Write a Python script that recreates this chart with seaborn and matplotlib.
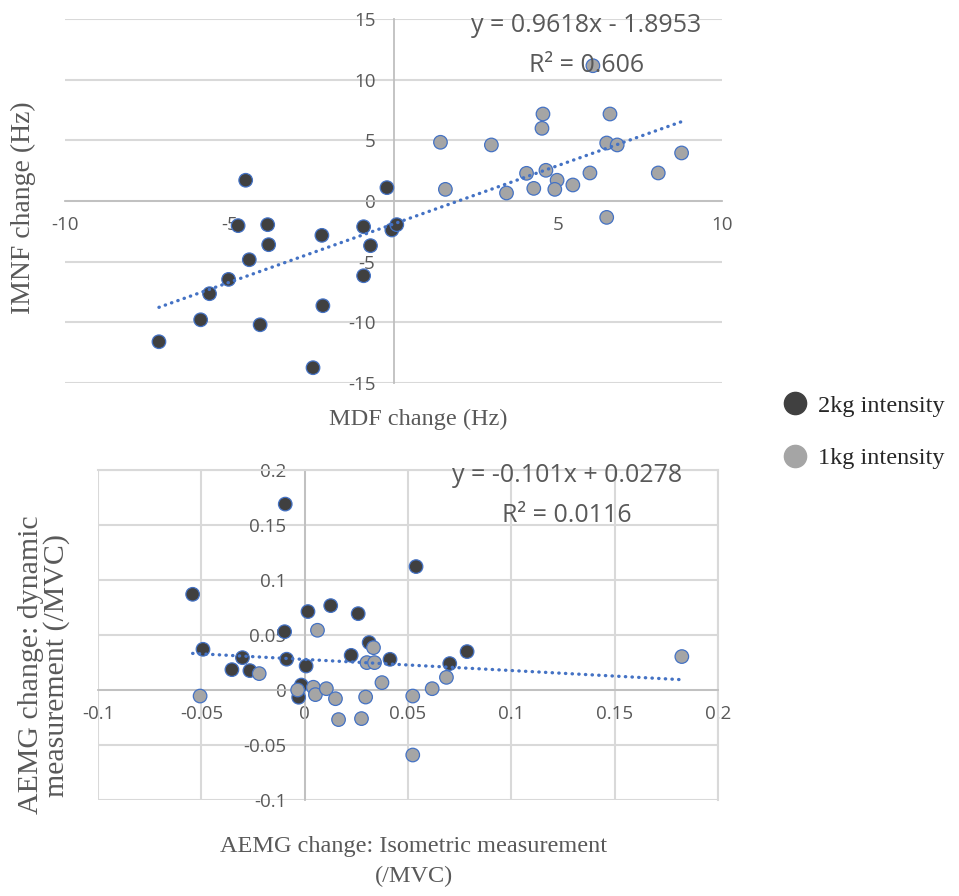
import numpy as np
import pandas as pd
import matplotlib
matplotlib.use('Agg')
import matplotlib.pyplot as plt
from matplotlib.lines import Line2D
import seaborn as sns

# ---- data ----
GROUPS = ['2kg intensity', '1kg intensity']

# top panel: MDF change vs IMNF change (Hz)
mdf_2kg = [-4.50, -0.20, -4.73, -3.83, -3.80, -4.39, -5.02, -5.60, -5.87, -7.14,
           -4.06, -2.45, -2.15, -2.18, -0.91, -0.70, -0.91, -0.05, 0.10]
imnf_2kg = [1.71, 1.10, -2.03, -1.95, -3.60, -4.84, -6.46, -7.64, -9.79, -11.6,
            -10.2, -13.74, -8.63, -2.83, -2.12, -3.68, -6.16, -2.39, -1.95]
mdf_1kg = [1.43, 1.58, 2.98, 3.44, 4.05, 4.27, 4.55, 4.52, 4.64, 4.98,
           4.91, 5.46, 5.98, 6.07, 6.49, 6.59, 6.81, 6.49, 8.06, 8.77]
imnf_1kg = [4.84, 0.96, 4.62, 0.66, 2.28, 1.04, 7.17, 5.99, 2.53, 1.71,
            0.96, 1.32, 2.31, 11.15, 4.78, 7.17, 4.62, -1.35, 2.31, 3.96]

# bottom panel: AEMG change isometric vs dynamic (/MVC)
iso_2kg = [-0.0094, -0.0542, -0.0492, -0.0352, -0.0301, -0.0265, -0.0097, -0.0087,
           0.0007, -0.0016, -0.0029, 0.0016, 0.0126, 0.0259, 0.0225, 0.0312,
           0.0413, 0.0539, 0.0702, 0.0786]
dyn_2kg = [0.169, 0.087, 0.037, 0.0185, 0.0294, 0.0176, 0.053, 0.028,
           0.0218, 0.0045, -0.0066, 0.0713, 0.0767, 0.0694, 0.0315, 0.0431,
           0.0279, 0.1122, 0.024, 0.0349]
iso_1kg = [-0.0506, -0.0220, 0.0062, 0.0042, 0.0052, 0.0105, 0.0149, 0.0164,
           0.0275, 0.0295, 0.0301, 0.0338, 0.0333, 0.0374, -0.0034, 0.0523,
           0.0617, 0.0686, 0.0523, 0.1825]
dyn_1kg = [-0.0055, 0.0149, 0.0543, 0.0025, -0.0042, 0.0012, -0.0079, -0.0269,
           -0.026, -0.0064, 0.0249, 0.0249, 0.0385, 0.0067, 0.0, -0.0055,
           0.0012, 0.0115, -0.0591, 0.0304]

# trendlines as printed on the chart
top_slope, top_icpt, top_r2 = 0.9618, -1.8953, 0.606
bot_slope, bot_icpt, bot_r2 = -0.101, 0.0278, 0.0116

top_xticks = [-10, -5, 5, 10]
top_yticks = [-15, -10, -5, 0, 5, 10, 15]
bot_ticks = [-0.1, -0.05, 0, 0.05, 0.1, 0.15, 0.2]

# ---- styling ----
DARK = '#404040'
LIGHT = '#A5A5A5'
EDGE = '#4472C4'
GRID = '#D9D9D9'
AXIS = '#BFBFBF'
TXT = '#595959'
palette = {GROUPS[0]: DARK, GROUPS[1]: LIGHT}

sns.set_style('white')
plt.rcParams['font.family'] = ['Open Sans', 'DejaVu Sans']
SERIF = 'Liberation Serif'


def make_df(x1, y1, x2, y2):
    return pd.DataFrame({
        'x': list(x1) + list(x2),
        'y': list(y1) + list(y2),
        'group': [GROUPS[0]] * len(x1) + [GROUPS[1]] * len(x2),
    })


def fmt(v):
    return f'{v:g}'


def setup_axes(ax, xticks, yticks, xlim, ylim, vgrid):
    ax.set_xlim(*xlim)
    ax.set_ylim(*ylim)
    ax.set_xticks(xticks)
    ax.set_yticks(yticks)
    ax.set_xticklabels([fmt(v) for v in xticks])
    ax.set_yticklabels([fmt(v) for v in yticks])
    ax.set_axisbelow(True)
    ax.grid(axis='y', color=GRID, lw=1.5)
    if vgrid:
        ax.grid(axis='x', color=GRID, lw=1.5)
    else:
        ax.grid(axis='x', visible=False)
    for side in ['left', 'bottom']:
        ax.spines[side].set_position(('data', 0))
        ax.spines[side].set_color(AXIS)
        ax.spines[side].set_linewidth(1.3)
    for side in ['top', 'right']:
        ax.spines[side].set_visible(vgrid)
        ax.spines[side].set_color(GRID)
        ax.spines[side].set_linewidth(1.5)
    ax.tick_params(axis='x', length=0, pad=11, labelsize=13.5, labelcolor=TXT)
    ax.tick_params(axis='y', length=0, pad=13, labelsize=13.5, labelcolor=TXT)
    ax.set_xlabel('')
    ax.set_ylabel('')


def trend(ax, df, slope, icpt):
    xs = np.array([df['x'].min(), df['x'].max()])
    ax.plot(xs, slope * xs + icpt, color=EDGE, lw=2.4,
            ls=(0, (0.1, 1.9)), dash_capstyle='round', zorder=5)


fig = plt.figure(figsize=(9.59, 8.96), dpi=100)
W, H = 959, 896
ax1 = fig.add_axes([65 / W, 1 - 383 / H, (722 - 65) / W, (383 - 19) / H])
ax2 = fig.add_axes([98 / W, 1 - 800 / H, (718 - 98) / W, (800 - 470) / H])

top = make_df(mdf_2kg, imnf_2kg, mdf_1kg, imnf_1kg)
bot = make_df(iso_2kg, dyn_2kg, iso_1kg, dyn_1kg)

for ax, df in [(ax1, top), (ax2, bot)]:
    sns.scatterplot(data=df, x='x', y='y', hue='group', palette=palette,
                    hue_order=GROUPS, s=95, edgecolor=EDGE, linewidth=0.9,
                    legend=False, ax=ax, zorder=3)

setup_axes(ax1, top_xticks, top_yticks, (-10, 10), (-15, 15), vgrid=False)
setup_axes(ax2, bot_ticks, bot_ticks, (-0.1, 0.2), (-0.1, 0.2), vgrid=True)
trend(ax1, top, top_slope, top_icpt)
trend(ax2, bot, bot_slope, bot_icpt)


def eq_text(slope, icpt):
    sign = '+' if icpt >= 0 else '-'
    return f'y = {fmt(slope)}x {sign} {fmt(abs(icpt))}'


fig.text(586 / W, 1 - 25 / H, eq_text(top_slope, top_icpt), ha='center', va='center',
         fontsize=18, color=TXT)
fig.text(587 / W, 1 - 66 / H, f'R² = {fmt(top_r2)}', ha='center', va='center',
         fontsize=18, color=TXT)
fig.text(567 / W, 1 - 475 / H, eq_text(bot_slope, bot_icpt), ha='center', va='center',
         fontsize=18, color=TXT)
fig.text(567 / W, 1 - 516 / H, f'R² = {fmt(bot_r2)}', ha='center', va='center',
         fontsize=18, color=TXT)

# axis titles
fig.text(418 / W, 1 - 419 / H, 'MDF change (Hz)', ha='center', va='center',
         fontsize=17.5, color=TXT, family=SERIF)
fig.text(23 / W, 1 - 208 / H, 'IMNF change (Hz)', ha='center', va='center',
         fontsize=20, color=TXT, family=SERIF, rotation=90)
fig.text(414 / W, 1 - 862 / H, 'AEMG change: Isometric measurement\n(/MVC)',
         ha='center', va='center', fontsize=17.5, color=TXT, family=SERIF,
         linespacing=1.55)
fig.text(44 / W, 1 - 665 / H, 'AEMG change: dynamic\nmeasurement (/MVC)',
         ha='center', va='center', fontsize=21.5, color=TXT, family=SERIF,
         rotation=90, linespacing=1.0)

handles = [Line2D([], [], marker='o', ls='', markersize=16, markerfacecolor=palette[g],
                  markeredgecolor=palette[g]) for g in GROUPS]
fig.legend(handles, GROUPS, loc='center left', bbox_to_anchor=(771 / W, 1 - 432 / H),
           frameon=False, prop={'family': SERIF, 'size': 17.5}, labelcolor='#262626',
           labelspacing=1.25, handletextpad=0.45, borderpad=0, handlelength=1.0)

fig.savefig('out.png', dpi=100)
